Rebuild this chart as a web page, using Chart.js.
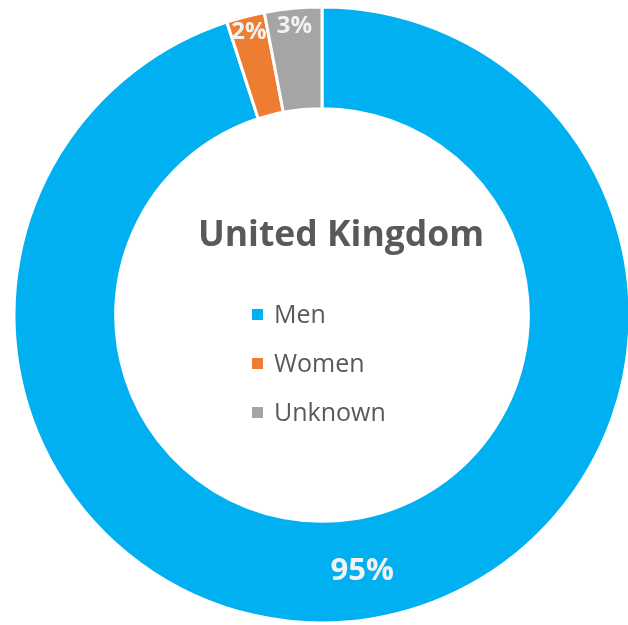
<!DOCTYPE html>
<html>
<head>
<meta charset="utf-8">
<script src="https://cdn.jsdelivr.net/npm/chart.js@4"></script>
<style>
  html, body { margin: 0; padding: 0; background: #fff; }
</style>
</head>
<body>
<canvas id="chart" width="628" height="625"></canvas>
<script>
const title = 'United Kingdom';
const categories = ['Men', 'Women', 'Unknown'];
const shares = [95, 2, 3];
const colors = ['#00B0F0', '#ED7D31', '#A5A5A5'];

// label distance from centre, as a share of the ring (0 = inner edge, 1 = outer edge)
const labelRing = [0.5, 0.86, 0.84];
const labelSize = [31, 24, 24];

const centreText = {
    id: 'centreText',
    afterDraw(chart) {
        const ctx = chart.ctx;
        ctx.save();
        ctx.fillStyle = '#595959';
        ctx.textBaseline = 'alphabetic';
        ctx.textAlign = 'center';
        ctx.font = 'bold 35.5px "Open Sans"';
        ctx.fillText(title, 341, 246);

        ctx.textAlign = 'left';
        ctx.font = '25px "Open Sans"';
        categories.forEach((name, i) => {
            const y = 323 + i * 49;
            ctx.fillStyle = colors[i];
            ctx.fillRect(252, y - 14, 11, 11);
            ctx.fillStyle = '#595959';
            ctx.fillText(name, 274, y);
        });
        ctx.restore();
    }
};

const sliceLabels = {
    id: 'sliceLabels',
    afterDatasetsDraw(chart) {
        const ctx = chart.ctx;
        const meta = chart.getDatasetMeta(0);
        ctx.save();
        ctx.fillStyle = '#F2F2F2';
        ctx.textAlign = 'center';
        ctx.textBaseline = 'alphabetic';
        meta.data.forEach((arc, i) => {
            const p = arc.getProps(['x', 'y', 'startAngle', 'endAngle', 'innerRadius', 'outerRadius'], true);
            const mid = (p.startAngle + p.endAngle) / 2;
            const r = p.innerRadius + (p.outerRadius - p.innerRadius) * labelRing[i];
            const size = labelSize[i];
            ctx.font = 'bold ' + size + 'px "Open Sans"';
            // centre the digits' cap height on the anchor point
            ctx.fillText(shares[i] + '%', p.x + Math.cos(mid) * r, p.y + Math.sin(mid) * r + size * 0.36);
        });
        ctx.restore();
    }
};

new Chart(document.getElementById('chart'), {
    type: 'doughnut',
    data: {
        labels: categories,
        datasets: [{
            data: shares,
            backgroundColor: colors,
            borderColor: '#FFFFFF',
            borderWidth: 3,
            hoverOffset: 0
        }]
    },
    options: {
        responsive: false,
        animation: false,
        radius: 308,
        cutout: 204,
        layout: { padding: { left: 16, right: 0, top: 5, bottom: 0 } },
        plugins: {
            legend: { display: false },
            tooltip: { enabled: false }
        }
    },
    plugins: [centreText, sliceLabels]
});
</script>
</body>
</html>
